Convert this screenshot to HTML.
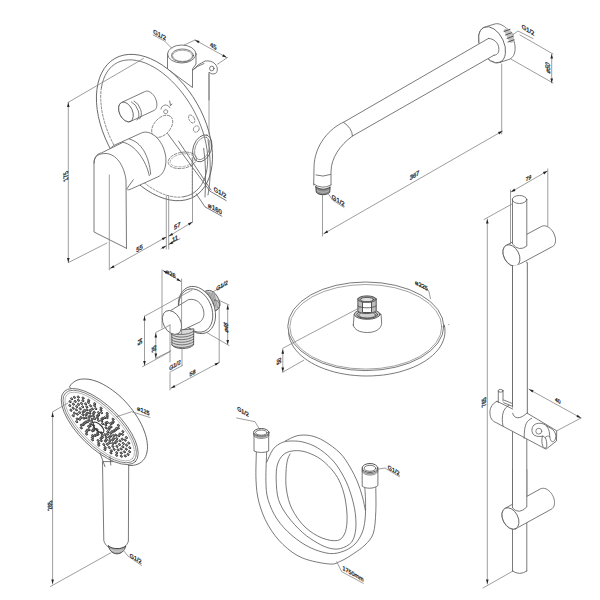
<!DOCTYPE html>
<html><head><meta charset="utf-8"><style>
html,body{margin:0;padding:0;background:#fff;width:600px;height:600px;overflow:hidden}
svg{display:block}
text{font-family:"Liberation Sans",sans-serif;fill:#2a2a2a;stroke:#2a2a2a;stroke-width:0.3px}
</style></head><body>
<svg width="600" height="600" viewBox="0 0 600 600">
<rect width="600" height="600" fill="#fff"/>
<g fill="none" stroke="#585858" stroke-width="0.8" stroke-linecap="round" stroke-linejoin="round">
<path d="M512.5 262 L512.5 571"/>
<path d="M526.8 262 L526.8 571"/>
<path d="M512.5 571 Q 519.6 576 526.8 571"/>
<path d="M541.6 226.4 L542.3 226.1 L543 225.9 L543.7 225.8 L544.5 225.8 L545.3 225.9 L546.2 226.1 L547 226.4 L547.8 226.8 L548.7 227.3 L549.5 227.9 L550.3 228.6 L551 229.3 L551.8 230.2 L552.4 231 L553.1 232 L553.6 233 L554.1 234 L554.5 235 L554.9 236.1 L555.2 237.1 L555.4 238.2 L555.5 239.2 L555.5 240.2 L555.5 241.2 L555.4 242.1 L555.2 243 L554.9 243.8 L554.5 244.5 L554.1 245.2 L553.6 245.8 L553 246.3 L552.4 246.6 L516.9 265.6 L516.2 265.9 L515.5 266.1 L514.8 266.2 L514 266.2 L513.2 266.1 L512.3 265.9 L511.5 265.6 L510.7 265.2 L509.8 264.7 L509 264.1 L508.2 263.4 L507.5 262.7 L506.7 261.8 L506.1 261 L505.4 260 L504.9 259 L504.4 258 L504 257 L503.6 255.9 L503.3 254.9 L503.1 253.8 L503 252.8 L503 251.8 L503 250.8 L503.1 249.9 L503.3 249 L503.6 248.2 L504 247.5 L504.4 246.8 L504.9 246.2 L505.5 245.7 L506.1 245.4 Z" fill="#fff"/>
<ellipse cx="511.5" cy="255.5" rx="11.5" ry="7.5" transform="rotate(62 511.5 255.5)" fill="#fff"/>
<path d="M540.5 488.9 L541.2 488.6 L541.9 488.4 L542.7 488.3 L543.5 488.3 L544.3 488.4 L545.1 488.6 L546 488.9 L546.8 489.3 L547.6 489.8 L548.4 490.4 L549.2 491 L550 491.8 L550.7 492.6 L551.4 493.5 L552 494.4 L552.6 495.4 L553.1 496.4 L553.5 497.4 L553.9 498.5 L554.2 499.5 L554.4 500.6 L554.5 501.6 L554.5 502.6 L554.5 503.6 L554.4 504.5 L554.2 505.4 L553.9 506.2 L553.6 507 L553.1 507.6 L552.6 508.2 L552.1 508.7 L551.5 509.1 L516 528.6 L515.3 528.9 L514.6 529.1 L513.8 529.2 L513 529.2 L512.2 529.1 L511.4 528.9 L510.5 528.6 L509.7 528.2 L508.9 527.7 L508.1 527.1 L507.3 526.5 L506.5 525.7 L505.8 524.9 L505.1 524 L504.5 523.1 L503.9 522.1 L503.4 521.1 L503 520.1 L502.6 519 L502.3 518 L502.1 516.9 L502 515.9 L502 514.9 L502 513.9 L502.1 513 L502.3 512.1 L502.6 511.3 L502.9 510.5 L503.4 509.9 L503.9 509.3 L504.4 508.8 L505 508.4 Z" fill="#fff"/>
<ellipse cx="510.5" cy="518.5" rx="11.5" ry="7.5" transform="rotate(62 510.5 518.5)" fill="#fff"/>
<path d="M512.5 199.5 L512.5 244 Q 519 252 526.8 246 L526.8 199.5 Z" stroke="none" fill="#fff"/>
<path d="M512.5 199.5 L512.5 244 Q 519 252 526.8 246 L526.8 199.5"/>
<ellipse cx="519.5" cy="199.5" rx="7.2" ry="4" transform="rotate(0 519.5 199.5)"/>
<path d="M512.5 266 L512.5 413 Q 519 421 527.3 413 L527.3 263" fill="#fff"/>
<path d="M512.5 470 L512.5 508 Q 519 515 526.8 507 L526.8 470 Z" stroke="none" fill="#fff"/>
<path d="M512.5 470 L512.5 508 Q 519 515 526.8 507 L526.8 470"/>
<path d="M497 401.3 C 491 404 489.5 410 490 413 C 490 418 492 421 496.3 422.7 L546 449.2 L556.5 441 L556.7 430.8 L527.4 413.3" fill="#fff"/>
<path d="M497 401.3 L512.7 409"/>
<path d="M509 405.3 C 503 408 501 416 503 426"/>
<path d="M531.7 418.3 C 527 420.5 524 424 524.2 438.3"/>
<path d="M546.5 425.8 C 543 422.5 537 422.5 534 425 C 531 428 531.5 433 534 435 C 537 437 540.5 436.5 542.5 436.2" fill="#fff"/>
<ellipse cx="538.8" cy="431.2" rx="3" ry="2.9" transform="rotate(0 538.8 431.2)" stroke-width="0.7"/>
<path d="M546.5 425.8 L550.8 428.3 C 553 429.5 555.5 432 555.8 435.5 C 556 439 554.5 441.7 552.5 441.7 C 550.5 441.7 549.8 438 549.5 434 C 549.3 431 548.5 428 546.5 425.8" fill="#fff"/>
<path d="M542.5 436.2 C 541.5 439 541.5 443 543 446.5 C 544 448.5 546 448.8 546.7 447 C 547 443 546.5 439 545 437.5 C 544.3 436.5 543.3 436.2 542.5 436.2" fill="#fff"/>
<path d="M545 437.5 C 546.5 436 548.5 435.5 549.8 436.5" stroke-width="0.7"/>
<path d="M512.7 413.3 C 514 419 520 420 527.4 412.7" fill="#fff"/>
<path d="M498.3 391 L498.3 402.5"/>
<path d="M503 391 L503 401"/>
<ellipse cx="500.6" cy="390.8" rx="2.4" ry="1.4" transform="rotate(0 500.6 390.8)"/>
<path d="M503.7 400 L511.7 403.3"/>
<path d="M503.7 402.7 L511.7 406"/>
<g stroke="#7d7d7d" stroke-width="0.75">
<path d="M510.5 190 L510.5 244"/>
<path d="M547.8 169 L547.8 226"/>
<path d="M511 192 L547.4 171"/>
<path d="M511 192 L514.2 188.6 L515.5 190.9 Z" fill="#222" stroke="none"/>
<path d="M547.4 171 L544.2 174.4 L542.9 172.1 Z" fill="#222" stroke="none"/>
<text x="0" y="0" font-size="5.5" text-anchor="middle" dominant-baseline="central" transform="translate(528.5 178) skewY(-30) scale(0.9 1)">79</text>
<path d="M484 219.5 L512 204"/>
<path d="M483 588 L513 571"/>
<path d="M487.3 219 L487.3 584"/>
<path d="M487.3 219 L488.6 223.5 L486 223.5 Z" fill="#222" stroke="none"/>
<path d="M487.3 584 L486 579.5 L488.6 579.5 Z" fill="#222" stroke="none"/>
<text x="0" y="0" font-size="6" text-anchor="middle" dominant-baseline="central" transform="translate(483.7 402.7) skewY(-30) rotate(-90) scale(0.9 1)">765</text>
<path d="M529 389.3 L581 418"/>
<path d="M529 389.3 L533.6 390.3 L532.3 392.6 Z" fill="#222" stroke="none"/>
<path d="M581 418 L576.4 417 L577.7 414.7 Z" fill="#222" stroke="none"/>
<path d="M557 430.7 L581 418"/>
<text x="0" y="0" font-size="5.5" text-anchor="middle" dominant-baseline="central" transform="translate(557.8 400.5) skewY(30) scale(0.9 1)">40</text>
</g>
<path d="M494.4 24.1 L495.5 23.8 L496.7 23.7 L498 23.8 L499.3 24 L500.6 24.5 L501.9 25 L503.2 25.8 L504.6 26.7 L505.8 27.8 L507.1 28.9 L508.3 30.3 L509.4 31.7 L510.4 33.2 L511.4 34.8 L512.2 36.5 L513 38.2 L513.7 40 L514.2 41.7 L514.6 43.5 L514.9 45.3 L515.1 47 L515.1 48.7 L515 50.3 L514.8 51.8 L514.4 53.2 L514 54.6 L513.4 55.7 L512.6 56.8 L511.8 57.7 L510.9 58.5 L509.9 59.1 L508.8 59.5 L499.3 62.5 L498.2 62.8 L497 62.9 L495.7 62.8 L494.4 62.6 L493.1 62.1 L491.8 61.6 L490.5 60.8 L489.1 59.9 L487.9 58.8 L486.6 57.7 L485.4 56.3 L484.3 54.9 L483.3 53.4 L482.3 51.8 L481.5 50.1 L480.7 48.4 L480 46.6 L479.5 44.9 L479.1 43.1 L478.8 41.3 L478.6 39.6 L478.6 37.9 L478.7 36.3 L478.9 34.8 L479.3 33.4 L479.7 32 L480.3 30.9 L481.1 29.8 L481.9 28.9 L482.8 28.1 L483.8 27.5 L484.9 27.1 Z" fill="#fff"/>
<ellipse cx="492.1" cy="44.8" rx="19.2" ry="11.9" transform="rotate(64.9 492.1 44.8)" fill="#fff"/>
<path d="M440 63.7 L488.5 38.4 C 496 39 500 45 498.6 51.7 C 498 54 496 55.4 494 55.2 L440 86.8 Z" stroke="none" fill="#fff"/>
<path d="M313.7 185 L314 168 C 314 145 330 128 344 122 L488.5 38.4"/>
<path d="M331 185 L331 172 C 331 158 340 145 352.5 136 L494 55.2"/>
<path d="M488.5 38.4 C 496 39 500 45 498.6 51.7 C 498 54 496 55.4 494 55.2"/>
<path d="M343.75 122.5 Q 352 128 352.5 136"/>
<path d="M313.7 184 Q 322 190 331 185"/>
<path d="M316 175 Q 323 177.5 330.5 174.5"/>
<path d="M315.8 186.8 L316.3 192.3 C 318.5 195.5 327.5 195.5 329.7 192.3 L330.2 186.8 C 326 190 320 190 315.8 186.8 Z" stroke-width="0.9" stroke="#3a3a3a" fill="#8c8c8c"/>
<path d="M317 190.6 C 320 192.8 326 192.8 329 190.6" stroke-width="0.6" stroke="#d8d8d8"/>
<path d="M503.5 30 L507 27.5 L513.5 33.5 L514.5 42 L510 43 Z" stroke="none" fill="#c4c4c4"/>
<path d="M504 31.5 L510 29.3" stroke-width="0.9" stroke="#444"/>
<path d="M505.5 35 L511.5 32.8" stroke-width="0.9" stroke="#444"/>
<path d="M507 38.5 L513 36.3" stroke-width="0.9" stroke="#444"/>
<path d="M508 42 L514 39.8" stroke-width="0.9" stroke="#444"/>
<g stroke="#7d7d7d" stroke-width="0.75">
<path d="M501.7 64 L501.7 134"/>
<path d="M322.5 195 L322.5 236"/>
<path d="M323.7 233.7 L502.5 131"/>
<path d="M323.7 233.7 L327 230.3 L328.2 232.6 Z" fill="#222" stroke="none"/>
<path d="M502.5 131 L499.2 134.4 L498 132.1 Z" fill="#222" stroke="none"/>
<text x="0" y="0" font-size="6.5" text-anchor="middle" dominant-baseline="central" transform="translate(414.5 175) skewY(-30) scale(0.9 1)">367</text>
<path d="M520 35 L553 54"/>
<path d="M510.8 59 L553 83"/>
<path d="M551.7 54 L551.7 83"/>
<path d="M551.7 54 L553 58.5 L550.4 58.5 Z" fill="#222" stroke="none"/>
<path d="M551.7 83 L550.4 78.5 L553 78.5 Z" fill="#222" stroke="none"/>
<text x="0" y="0" font-size="6.5" text-anchor="middle" dominant-baseline="central" transform="translate(547.3 67.5) skewY(30) rotate(-90) scale(0.9 1)">⌀50</text>
<path d="M512.5 35 L518 31 L533 38.5"/>
<text x="0" y="0" font-size="6.5" text-anchor="middle" dominant-baseline="central" transform="translate(528 29.8) skewY(30) scale(0.9 1)">G1/2</text>
<path d="M327.5 192.5 L332.5 200 L344 207.5"/>
<text x="0" y="0" font-size="6.5" text-anchor="middle" dominant-baseline="central" transform="translate(338.2 200.3) skewY(32) scale(0.9 1)">G1/2</text>
</g>
<path d="M167.5 54 L167.5 69 L192.5 87.5 L192.5 69 L196 64 L196 54 Z" fill="#fff"/>
<path d="M194 69 L198 65 L205 61 C 209 60.5 212 61.5 214 63 C 217.5 65.5 218 70 216.5 72.5 C 215 74.5 211 74.5 209 72 L209 100" fill="#fff"/>
<path d="M193 70 L197.5 66.5 L204 63.5"/>
<ellipse cx="211.8" cy="68.5" rx="2.2" ry="2.4" transform="rotate(0 211.8 68.5)"/>
<ellipse cx="181.8" cy="54" rx="14.2" ry="9" transform="rotate(0 181.8 54)" fill="#fff"/>
<ellipse cx="182.5" cy="55.5" rx="11" ry="6.5" transform="rotate(0 182.5 55.5)"/>
<ellipse cx="182.5" cy="55.8" rx="10" ry="5.6" transform="rotate(0 182.5 55.8)" stroke-width="0.5"/>
<ellipse cx="154.5" cy="127.6" rx="79.7" ry="48.9" transform="rotate(60.1 154.5 127.6)" fill="#fff"/>
<path d="M101.4 87.8 L102.3 83.4 L103.5 79.3 L105.1 75.5 L107 72.1 L109.3 69 L111.8 66.4 L114.7 64.2 L117.8 62.4 L121.1 61.1 L124.7 60.3 L128.5 59.9 L132.4 59.9 L136.5 60.5 L140.8 61.5 L145.1 62.9 L149.4 64.8 L153.9 67.2 L158.3 69.9 L162.6 73.1 L167 76.6 L171.2 80.5 L175.3 84.7 L179.3 89.2 L183.1 94 L186.7 99 L190.1 104.2 L193.3 109.6 L196.1 115.1 L198.7 120.7 L201 126.4 L203 132 L204.6 137.7 L205.9 143.2 L206.9 148.7 L207.5 154.1 L207.7 159.2 L207.5 164.2 L207 168.9 L206.2 173.3 L204.9 177.5 L203.4 181.3 L201.5 184.7 L199.3 187.8 L196.7 190.4 L193.9 192.7 L190.8 194.5 L187.5 195.8 L183.9 196.7"/>
<path d="M183.9 196.7 L183.1 196.8 L182.3 196.9 L181.5 197 L180.6 197.1 L179.8 197.1 L178.9 197.2 L178 197.2 L177.2 197.1 L176.3 197.1 L175.4 197 L174.5 196.9 L173.6 196.8 L172.7 196.7 L171.8 196.5 L170.9 196.3 L169.9 196.1 L169 195.9 L168.1 195.6 L167.1 195.4 L166.2 195.1 L165.2 194.8 L164.3 194.4 L163.3 194.1 L162.4 193.7 L161.4 193.3 L160.4 192.9 L159.5 192.4 L158.5 191.9 L157.5 191.4 L156.5 190.9 L155.6 190.4 L154.6 189.9 L153.6 189.3 L152.7 188.7 L151.7 188.1 L150.7 187.5 L149.7 186.8 L148.8 186.1 L147.8 185.5 L146.8 184.7 L145.9 184 L144.9 183.3 L144 182.5 L143 181.7 L142.1 180.9 L141.1 180.1 L140.2 179.3 L139.2 178.4" stroke-width="0.7" stroke-dasharray="2.2 1.6"/>
<path d="M113.7 144.7 L113.1 143.5 L112.5 142.3 L111.9 141.1 L111.3 139.8 L110.7 138.6 L110.1 137.4 L109.6 136.1 L109.1 134.9 L108.5 133.6 L108 132.4 L107.6 131.1 L107.1 129.9 L106.6 128.6 L106.2 127.4 L105.8 126.2 L105.4 124.9 L105 123.7 L104.6 122.4 L104.3 121.2 L103.9 119.9 L103.6 118.7 L103.3 117.5 L103 116.2 L102.7 115 L102.5 113.8 L102.2 112.6 L102 111.4 L101.8 110.1 L101.6 108.9 L101.5 107.8 L101.3 106.6 L101.2 105.4 L101.1 104.2 L101 103.1 L100.9 101.9 L100.8 100.8 L100.8 99.6 L100.7 98.5 L100.7 97.4 L100.7 96.3 L100.7 95.2 L100.8 94.1 L100.9 93 L100.9 91.9 L101 90.9 L101.1 89.9 L101.3 88.8 L101.4 87.8" stroke-width="0.7" stroke-dasharray="2.2 1.6"/>
<ellipse cx="162.2" cy="126.3" rx="12.9" ry="8.2" transform="rotate(-48.4 162.2 126.3)" stroke-width="0.75" stroke="#6a6a6a" stroke-dasharray="2.6 1.6"/>
<ellipse cx="165.7" cy="111.7" rx="2" ry="2" transform="rotate(0 165.7 111.7)" stroke-dasharray="1.5 1"/>
<path d="M161 109 A4.7 4.7 0 0 1 170 108" stroke-dasharray="1.5 1"/>
<path d="M169.7 101 L170.5 105.7 L172 104"/>
<ellipse cx="182.3" cy="160.3" rx="14.3" ry="8" transform="rotate(-10 182.3 160.3)" stroke-width="0.75" stroke="#6a6a6a" stroke-dasharray="2.6 1.6"/>
<ellipse cx="182.3" cy="160.3" rx="12.3" ry="6.3" transform="rotate(-10 182.3 160.3)" stroke-width="0.6" stroke="#888" stroke-dasharray="2.6 1.6"/>
<ellipse cx="191.7" cy="119" rx="2.6" ry="4.5" transform="rotate(-30 191.7 119)" stroke-width="0.7" stroke="#6a6a6a" stroke-dasharray="2 1.4"/>
<ellipse cx="196.3" cy="129" rx="2.8" ry="3.3" transform="rotate(30 196.3 129)" stroke-width="0.7" stroke="#6a6a6a" stroke-dasharray="2 1.2"/>
<ellipse cx="202.3" cy="148.3" rx="14" ry="9" transform="rotate(-70 202.3 148.3)" stroke="#555"/>
<ellipse cx="202.3" cy="148.3" rx="11.8" ry="7" transform="rotate(-70 202.3 148.3)" stroke-width="0.7" stroke="#777"/>
<path d="M203.7 148.3 C 206 165 206 180 205 197"/>
<path d="M208 140 C 211 160 211 178 208 195"/>
<path d="M192.3 157.7 L192.3 197" stroke-dasharray="2 1.3"/>
<path d="M167.7 133.7 L210 191.2 L226.2 200.6"/>
<path d="M178.5 141 L211 190"/>
<path d="M196.2 193.8 L205 206.9 L221.9 216.2"/>
<path d="M145.1 91.5 L145.7 91.3 L146.3 91.1 L147 91.1 L147.6 91.2 L148.4 91.3 L149.1 91.6 L149.8 91.9 L150.5 92.3 L151.2 92.8 L151.9 93.4 L152.6 94.1 L153.2 94.8 L153.8 95.6 L154.4 96.4 L154.9 97.3 L155.4 98.2 L155.8 99.2 L156.1 100.2 L156.4 101.1 L156.6 102.1 L156.8 103.1 L156.9 104 L156.9 104.9 L156.8 105.8 L156.7 106.6 L156.5 107.4 L156.2 108.1 L155.9 108.7 L155.5 109.3 L155 109.8 L154.5 110.2 L153.9 110.5 L130.4 121.5 L129.8 121.7 L129.2 121.9 L128.5 121.9 L127.9 121.8 L127.1 121.7 L126.4 121.4 L125.7 121.1 L125 120.7 L124.3 120.2 L123.6 119.6 L122.9 118.9 L122.3 118.2 L121.7 117.4 L121.1 116.6 L120.6 115.7 L120.1 114.8 L119.7 113.8 L119.4 112.8 L119.1 111.9 L118.9 110.9 L118.7 109.9 L118.6 109 L118.6 108.1 L118.7 107.2 L118.8 106.4 L119 105.6 L119.3 104.9 L119.6 104.3 L120 103.7 L120.5 103.2 L121 102.8 L121.6 102.5 Z" fill="#fff"/>
<ellipse cx="126" cy="112" rx="10.5" ry="6.5" transform="rotate(65 126 112)" fill="#fff"/>
<path d="M131.5 102 A10.5 6.5 65 0 1 137 120"/>
<path d="M134 101 A10.5 6.5 65 0 1 139.5 119"/>
<path d="M141.2 133.1 L142.6 132.5 L144.1 132.2 L145.6 132.1 L147.2 132.3 L148.8 132.6 L150.5 133.2 L152.1 134 L153.6 135 L155.2 136.1 L156.7 137.5 L158.1 139 L159.4 140.7 L160.6 142.5 L161.8 144.4 L162.8 146.5 L163.7 148.6 L164.4 150.8 L165 153 L165.5 155.2 L165.8 157.5 L165.9 159.7 L165.9 161.9 L165.7 164 L165.4 166 L164.9 167.9 L164.3 169.7 L163.5 171.3 L162.6 172.8 L161.6 174.1 L160.4 175.3 L159.2 176.2 L157.8 176.9 L131.3 188.9 L129.9 189.5 L128.4 189.8 L126.9 189.9 L125.3 189.7 L123.7 189.4 L122 188.8 L120.4 188 L118.9 187 L117.3 185.9 L115.8 184.5 L114.4 183 L113.1 181.3 L111.9 179.5 L110.7 177.6 L109.7 175.5 L108.8 173.4 L108.1 171.2 L107.5 169 L107 166.8 L106.7 164.5 L106.6 162.3 L106.6 160.1 L106.8 158 L107.1 156 L107.6 154.1 L108.2 152.3 L109 150.7 L109.9 149.2 L110.9 147.9 L112.1 146.7 L113.3 145.8 L114.7 145.1 Z" fill="#fff"/>
<path d="M123.3 142.3 C 135 145 146 160 149.3 175.7"/>
<path d="M129.3 139 C 141 142 149 155 150.7 174.3"/>
<path d="M94 232 L94 163 C 94 156 99 153 101.3 153 L123 142.3 C 126 150 127.5 160 127.5 178 L126.5 248.3 Z" stroke="none" fill="#fff"/>
<path d="M126.5 248.3 L94 232 L94 163 C 94 156 99 153 101.3 153 L123 142.3"/>
<path d="M94 163 C 94 155 100 153.5 106 153.5 C 116 154 124 165 126 180 L126.5 248.3"/>
<path d="M126.7 189 L133.3 179.7"/>
<g stroke="#7d7d7d" stroke-width="0.75">
<path d="M109.3 175 L109.3 270"/>
<path d="M166.3 196 L166.3 249"/>
<path d="M168.7 196 L168.7 249"/>
<path d="M192.5 160 L192.5 197" stroke-dasharray="2.2 1.6"/>
<path d="M192.5 197 L192.5 222"/>
<path d="M68 102.5 L143.5 58.5"/>
<path d="M68.5 262.5 L107 243"/>
<path d="M68.3 102.5 L68.3 262.5"/>
<path d="M68.3 102.5 L69.6 107 L67 107 Z" fill="#222" stroke="none"/>
<path d="M68.3 262.5 L67 258 L69.6 258 Z" fill="#222" stroke="none"/>
<text x="0" y="0" font-size="6.5" text-anchor="middle" dominant-baseline="central" transform="translate(65.8 176.5) skewY(-30) rotate(-90) scale(0.9 1)">175</text>
<path d="M110 268.5 L166.3 237"/>
<path d="M110 268.5 L113.3 265.2 L114.6 267.4 Z" fill="#222" stroke="none"/>
<path d="M166.3 237 L163 240.3 L161.7 238.1 Z" fill="#222" stroke="none"/>
<text x="0" y="0" font-size="6.5" text-anchor="middle" dominant-baseline="central" transform="translate(139.4 248.1) skewY(-30) scale(0.9 1)">55</text>
<path d="M168.7 236.3 L192.5 222"/>
<path d="M168.7 236.3 L171.9 232.9 L173.2 235.1 Z" fill="#222" stroke="none"/>
<path d="M192.5 222 L189.3 225.4 L188 223.2 Z" fill="#222" stroke="none"/>
<text x="0" y="0" font-size="6.5" text-anchor="middle" dominant-baseline="central" transform="translate(177.2 225.6) skewY(-30) scale(0.9 1)">57</text>
<path d="M161 248.8 L166.3 245.8"/>
<path d="M166.3 245.8 L163 249.1 L161.7 246.9 Z" fill="#222" stroke="none"/>
<path d="M168.7 244.5 L180 238.7"/>
<path d="M168.7 244.5 L172.1 241.3 L173.3 243.6 Z" fill="#222" stroke="none"/>
<text x="0" y="0" font-size="6.5" text-anchor="middle" dominant-baseline="central" transform="translate(175 238.4) skewY(-30) scale(0.9 1)">11</text>
<text x="0" y="0" font-size="6.5" text-anchor="middle" dominant-baseline="central" transform="translate(220 192.2) skewY(30) scale(0.9 1)">G1/2</text>
<text x="0" y="0" font-size="6.5" text-anchor="middle" dominant-baseline="central" transform="translate(215 208.4) skewY(30) scale(0.9 1)">⌀160</text>
<path d="M184.2 45 L195 40"/>
<path d="M217.5 64.2 L227.5 57.5"/>
<path d="M209 74 L209 134"/>
<path d="M195 40 L226.7 57.5"/>
<path d="M195 40 L199.6 41 L198.3 43.3 Z" fill="#222" stroke="none"/>
<path d="M226.7 57.5 L222.1 56.5 L223.4 54.2 Z" fill="#222" stroke="none"/>
<text x="0" y="0" font-size="6.5" text-anchor="middle" dominant-baseline="central" transform="translate(213.2 45.9) skewY(30) scale(0.9 1)">45</text>
<path d="M172 48.5 L164.5 41 L153.2 35"/>
<text x="0" y="0" font-size="6.5" text-anchor="middle" dominant-baseline="central" transform="translate(159.6 34.6) skewY(30) scale(0.9 1)">G1/2</text>
</g>
<path d="M205 291.3 C 211 288 217 293 219.7 302 C 221 306 218 310 215 310.7 L214.3 310 C 213 303 211 297 207 293.3 Z" stroke-width="0.9" fill="#d2d2d2"/>
<path d="M206.5 292 L210 306" stroke-width="0.55" stroke="#666"/>
<path d="M208 292.3 L211.5 306.3" stroke-width="0.55" stroke="#666"/>
<path d="M209.5 292.6 L213 306.6" stroke-width="0.55" stroke="#666"/>
<path d="M211 292.9 L214.5 306.9" stroke-width="0.55" stroke="#666"/>
<path d="M212.5 293.2 L216 307.2" stroke-width="0.55" stroke="#666"/>
<path d="M214 293.5 L217.5 307.5" stroke-width="0.55" stroke="#666"/>
<path d="M214.3 300 C 218 300.5 220 303 219.7 306 C 219 309 217 310.5 215 310.7" stroke-width="0.9"/>
<ellipse cx="197" cy="310" rx="17.5" ry="24.5" transform="rotate(-22 197 310)" fill="#fff"/>
<ellipse cx="195.8" cy="310.5" rx="16" ry="22.5" transform="rotate(-22 195.8 310.5)"/>
<path d="M165 314 L188.3 299.7 C 196 298 202 303 203.7 311 C 205 318 201 322 197.7 323 L172.5 335 Z" fill="#fff"/>
<path d="M171.7 331 L171.9 345 C 175 349.5 189 350 193.6 345 L193.8 329.2 Z" stroke-width="0.9" fill="#d9d9d9"/>
<path d="M171.8 332.0 C 176 335.5 188 335.5 193.7 331.2" stroke-width="0.7" stroke="#444"/>
<path d="M171.8 334.6 C 176 338.1 188 338.1 193.7 333.8" stroke-width="0.7" stroke="#444"/>
<path d="M171.8 337.2 C 176 340.7 188 340.7 193.7 336.4" stroke-width="0.7" stroke="#444"/>
<path d="M171.8 339.8 C 176 343.3 188 343.3 193.7 339.0" stroke-width="0.7" stroke="#444"/>
<path d="M171.8 342.4 C 176 345.9 188 345.9 193.7 341.6" stroke-width="0.7" stroke="#444"/>
<path d="M171.8 345.0 C 176 348.5 188 348.5 193.7 344.2" stroke-width="0.7" stroke="#444"/>
<ellipse cx="172" cy="322.5" rx="12.8" ry="8.6" transform="rotate(62 172 322.5)" fill="#fff"/>
<g stroke="#7d7d7d" stroke-width="0.75">
<path d="M162 270 L162 328"/>
<path d="M181.6 279 L181.6 334"/>
<path d="M163 270.5 L181 281.5"/>
<path d="M163 270.5 L167.5 271.7 L166.2 274 Z" fill="#222" stroke="none"/>
<path d="M181 281.5 L176.5 280.3 L177.8 278 Z" fill="#222" stroke="none"/>
<text x="0" y="0" font-size="6" text-anchor="middle" dominant-baseline="central" transform="translate(170.8 273.2) skewY(30) scale(0.9 1)">⌀26</text>
<path d="M145 316 L192 290"/>
<path d="M142.5 366.7 L170 351.7"/>
<path d="M144.5 316 L144.5 365.5"/>
<path d="M144.5 316 L145.8 320.5 L143.2 320.5 Z" fill="#222" stroke="none"/>
<path d="M144.5 365.5 L143.2 361 L145.8 361 Z" fill="#222" stroke="none"/>
<text x="0" y="0" font-size="6" text-anchor="middle" dominant-baseline="central" transform="translate(140 342) skewY(-30) rotate(-90) scale(0.9 1)">54</text>
<path d="M155.8 332.5 L170 325"/>
<path d="M155.8 358.3 L170.8 350.8"/>
<path d="M155.8 333 L155.8 358"/>
<path d="M155.8 333 L157.1 337.5 L154.5 337.5 Z" fill="#222" stroke="none"/>
<path d="M155.8 358 L154.5 353.5 L157.1 353.5 Z" fill="#222" stroke="none"/>
<text x="0" y="0" font-size="6" text-anchor="middle" dominant-baseline="central" transform="translate(153.3 349.2) skewY(-30) rotate(-90) scale(0.9 1)">35</text>
<path d="M170 325 L170 362"/>
<path d="M170 373 L170 390"/>
<path d="M182 349.2 L182 365.5"/>
<path d="M170 372 L182.5 365.5"/>
<text x="0" y="0" font-size="6" text-anchor="middle" dominant-baseline="central" transform="translate(175 364.6) skewY(-30) scale(0.9 1)">G1/2</text>
<path d="M219.2 300 L219.2 362.5"/>
<path d="M170.8 388.3 L219.2 362.5"/>
<path d="M170.8 388.3 L174.2 385 L175.4 387.3 Z" fill="#222" stroke="none"/>
<path d="M219.2 362.5 L215.8 365.8 L214.6 363.5 Z" fill="#222" stroke="none"/>
<text x="0" y="0" font-size="6" text-anchor="middle" dominant-baseline="central" transform="translate(192.5 372.5) skewY(-30) scale(0.9 1)">58</text>
<path d="M219 300.3 L229 305"/>
<path d="M206.3 332.3 L229 345.5"/>
<path d="M227.7 305 L227.7 344.5"/>
<path d="M227.7 305 L229 309.5 L226.4 309.5 Z" fill="#222" stroke="none"/>
<path d="M227.7 344.5 L226.4 340 L229 340 Z" fill="#222" stroke="none"/>
<text x="0" y="0" font-size="6" text-anchor="middle" dominant-baseline="central" transform="translate(225.5 327) skewY(30) rotate(-90) scale(0.9 1)">⌀46</text>
<path d="M212.3 292.3 L227 283.5"/>
<text x="0" y="0" font-size="6" text-anchor="middle" dominant-baseline="central" transform="translate(222 285.2) skewY(-30) scale(0.9 1)">G1/2</text>
</g>
<path d="M444.2 325 L444.8 328.1 L445 331.3 L444.8 334.5 L444.2 337.7 L443.2 340.8 L441.8 343.9 L440 347 L437.9 349.9 L435.4 352.7 L432.5 355.5 L429.3 358.1 L425.8 360.6 L422 362.9 L417.9 365.1 L413.6 367.1 L409 368.9 L404.2 370.5 L399.2 372 L394.1 373.2 L388.8 374.2 L383.4 375 L377.9 375.5 L372.4 375.9 L366.8 376 L361.2 375.9 L355.7 375.5 L350.2 375 L344.8 374.2 L339.5 373.2 L334.4 372 L329.4 370.5 L324.6 368.9 L320 367.1 L315.7 365.1 L311.6 362.9 L307.8 360.6 L304.3 358.1 L301.1 355.5 L298.2 352.7 L295.7 349.9 L293.6 347 L291.8 343.9 L290.4 340.8 L289.4 337.7 L288.8 334.5 L288.6 331.3 L288.8 328.1 L289.4 325" fill="#fff"/>
<ellipse cx="365.8" cy="326.3" rx="78" ry="44.3" transform="rotate(0 365.8 326.3)" fill="#fff"/>
<ellipse cx="365.8" cy="326.8" rx="76" ry="42.3" transform="rotate(0 365.8 326.8)" stroke-width="0.6" stroke="#666"/>
<ellipse cx="448.8" cy="324.5" rx="0.5" ry="0.5" transform="rotate(0 448.8 324.5)" stroke="none" fill="#777"/>
<path d="M353.3 325 L354.2 314 L381 314 L381.7 323.3 C 381 330 374 332.5 367.5 332.5 C 360 332.5 354 330 353.3 325 Z" fill="#fff"/>
<ellipse cx="367.2" cy="314.3" rx="12.9" ry="5" transform="rotate(0 367.2 314.3)" stroke-width="1" fill="#d0d0d0"/>
<ellipse cx="367.2" cy="314.6" rx="10.5" ry="3.8" transform="rotate(0 367.2 314.6)" stroke-width="0.9" stroke="#444"/>
<ellipse cx="367.2" cy="315" rx="8.5" ry="3" transform="rotate(0 367.2 315)" stroke-width="0.8" stroke="#555"/>
<path d="M357.9 299 L357.9 310.8 C 360 314.5 372 314.5 376.2 310.8 L376.2 299 Z" stroke-width="1" fill="#bdbdbd"/>
<ellipse cx="367" cy="299.2" rx="9.2" ry="3.3" transform="rotate(0 367 299.2)" stroke-width="1" fill="#9a9a9a"/>
<ellipse cx="367" cy="299.6" rx="6.5" ry="2.2" transform="rotate(0 367 299.6)" stroke-width="0.8" stroke="#444" fill="#e0e0e0"/>
<path d="M362.5 302.5 L362.5 312.5 L371.5 312.5 L371.5 302.5 Z" stroke-width="0.9" stroke="#444" fill="#fff"/>
<path d="M358 306 C 362 308.5 372 308.5 376 306" stroke-width="0.8" stroke="#444"/>
<g stroke="#7d7d7d" stroke-width="0.75">
<path d="M282.8 348.3 L360.7 307.1"/>
<path d="M282.8 372.2 L303.8 360.2"/>
<path d="M282.8 349.3 L282.8 372"/>
<path d="M282.8 349.3 L284.1 353.8 L281.4 353.8 Z" fill="#222" stroke="none"/>
<path d="M282.8 372 L281.4 367.5 L284.1 367.5 Z" fill="#222" stroke="none"/>
<text x="0" y="0" font-size="6" text-anchor="middle" dominant-baseline="central" transform="translate(279 361.5) skewY(-30) rotate(-90) scale(0.9 1)">50</text>
<path d="M430.5 298.8 L428.7 290.6 L416.8 284.5"/>
<text x="0" y="0" font-size="6" text-anchor="middle" dominant-baseline="central" transform="translate(421.5 285) skewY(30) scale(0.9 1)">⌀225</text>
</g>
<path d="M102.5 462 L103.8 540.5 C 105 546 110 549 116.7 549.2 C 123 549 127 546 128.4 541 L128.7 462 Z" fill="#fff"/>
<path d="M108.5 546 C 109.5 551 113 553.8 117 553.8 C 121 553.8 124.5 551 125.8 546 C 122 549.5 112 549.5 108.5 546 Z" stroke-width="0.9" stroke="#3a3a3a" fill="#b0b0b0"/>
<path d="M110.5 549.5 C 113 552 121 552 124 549.5" stroke-width="0.7" stroke="#ddd"/>
<path d="M69.7 386.5 L70.9 384.7 L72.4 383.1 L74.1 381.8 L76 380.7 L78.1 379.8 L80.3 379.3 L82.8 379 L85.4 379 L88.1 379.2 L91 379.7 L93.9 380.5 L97 381.5 L100.1 382.8 L103.2 384.4 L106.4 386.2 L109.6 388.2 L112.7 390.4 L115.9 392.8 L119 395.4 L122 398.2 L124.9 401.1 L127.7 404.2 L130.4 407.4 L132.9 410.6 L135.3 414 L137.5 417.4 L139.5 420.8 L141.3 424.2 L142.9 427.6 L144.2 431 L145.4 434.3 L146.3 437.6 L146.9 440.7 L147.3 443.8 L147.5 446.7 L147.4 449.4 L147 452 L146.4 454.4 L145.6 456.6 L144.5 458.5 L143.2 460.3 L141.6 461.8 L139.9 463.1 L137.9 464.1 L135.7 464.8 L133.4 465.3 L130.9 465.5 L128.2 465.4 L100.4 426.6 Z" stroke-width="0.9" fill="#fff"/>
<ellipse cx="99.8" cy="426.6" rx="50" ry="21" transform="rotate(44.5 99.8 426.6)" fill="#fff"/>
<ellipse cx="99.8" cy="426.6" rx="48" ry="19.2" transform="rotate(44.5 99.8 426.6)" stroke-width="0.7"/>
<ellipse cx="99.8" cy="426.6" rx="45.8" ry="17.3" transform="rotate(44.5 99.8 426.6)" stroke-width="0.5" stroke="#777"/>
<ellipse cx="107.5" cy="434.1" rx="1.2" ry="0.9" transform="rotate(44.5 107.5 434.1)" stroke-width="0.8" stroke="#333" fill="#999"/>
<ellipse cx="105" cy="434.6" rx="1.2" ry="0.9" transform="rotate(44.5 105 434.6)" stroke-width="0.8" stroke="#333" fill="#999"/>
<ellipse cx="101.2" cy="432.8" rx="1.2" ry="0.9" transform="rotate(44.5 101.2 432.8)" stroke-width="0.8" stroke="#333" fill="#999"/>
<ellipse cx="97" cy="429.5" rx="1.2" ry="0.9" transform="rotate(44.5 97 429.5)" stroke-width="0.8" stroke="#333" fill="#999"/>
<ellipse cx="93.5" cy="425.3" rx="1.2" ry="0.9" transform="rotate(44.5 93.5 425.3)" stroke-width="0.8" stroke="#333" fill="#999"/>
<ellipse cx="91.8" cy="421.5" rx="1.2" ry="0.9" transform="rotate(44.5 91.8 421.5)" stroke-width="0.8" stroke="#333" fill="#999"/>
<ellipse cx="92.1" cy="419.1" rx="1.2" ry="0.9" transform="rotate(44.5 92.1 419.1)" stroke-width="0.8" stroke="#333" fill="#999"/>
<ellipse cx="94.6" cy="418.6" rx="1.2" ry="0.9" transform="rotate(44.5 94.6 418.6)" stroke-width="0.8" stroke="#333" fill="#999"/>
<ellipse cx="98.4" cy="420.4" rx="1.2" ry="0.9" transform="rotate(44.5 98.4 420.4)" stroke-width="0.8" stroke="#333" fill="#999"/>
<ellipse cx="102.6" cy="423.7" rx="1.2" ry="0.9" transform="rotate(44.5 102.6 423.7)" stroke-width="0.8" stroke="#333" fill="#999"/>
<ellipse cx="106.1" cy="427.9" rx="1.2" ry="0.9" transform="rotate(44.5 106.1 427.9)" stroke-width="0.8" stroke="#333" fill="#999"/>
<ellipse cx="107.8" cy="431.7" rx="1.2" ry="0.9" transform="rotate(44.5 107.8 431.7)" stroke-width="0.8" stroke="#333" fill="#999"/>
<ellipse cx="109.2" cy="437.4" rx="1.2" ry="0.9" transform="rotate(44.5 109.2 437.4)" stroke-width="0.8" stroke="#333" fill="#999"/>
<ellipse cx="106.2" cy="437.2" rx="1.2" ry="0.9" transform="rotate(44.5 106.2 437.2)" stroke-width="0.8" stroke="#333" fill="#999"/>
<ellipse cx="102.3" cy="435.4" rx="1.2" ry="0.9" transform="rotate(44.5 102.3 435.4)" stroke-width="0.8" stroke="#333" fill="#999"/>
<ellipse cx="97.9" cy="432.3" rx="1.2" ry="0.9" transform="rotate(44.5 97.9 432.3)" stroke-width="0.8" stroke="#333" fill="#999"/>
<ellipse cx="93.9" cy="428.3" rx="1.2" ry="0.9" transform="rotate(44.5 93.9 428.3)" stroke-width="0.8" stroke="#333" fill="#999"/>
<ellipse cx="90.7" cy="424" rx="1.2" ry="0.9" transform="rotate(44.5 90.7 424)" stroke-width="0.8" stroke="#333" fill="#999"/>
<ellipse cx="89" cy="420.1" rx="1.2" ry="0.9" transform="rotate(44.5 89 420.1)" stroke-width="0.8" stroke="#333" fill="#999"/>
<ellipse cx="88.9" cy="417.2" rx="1.2" ry="0.9" transform="rotate(44.5 88.9 417.2)" stroke-width="0.8" stroke="#333" fill="#999"/>
<ellipse cx="90.4" cy="415.8" rx="1.2" ry="0.9" transform="rotate(44.5 90.4 415.8)" stroke-width="0.8" stroke="#333" fill="#999"/>
<ellipse cx="93.4" cy="416" rx="1.2" ry="0.9" transform="rotate(44.5 93.4 416)" stroke-width="0.8" stroke="#333" fill="#999"/>
<ellipse cx="97.3" cy="417.8" rx="1.2" ry="0.9" transform="rotate(44.5 97.3 417.8)" stroke-width="0.8" stroke="#333" fill="#999"/>
<ellipse cx="101.7" cy="420.9" rx="1.2" ry="0.9" transform="rotate(44.5 101.7 420.9)" stroke-width="0.8" stroke="#333" fill="#999"/>
<ellipse cx="105.7" cy="424.9" rx="1.2" ry="0.9" transform="rotate(44.5 105.7 424.9)" stroke-width="0.8" stroke="#333" fill="#999"/>
<ellipse cx="108.9" cy="429.2" rx="1.2" ry="0.9" transform="rotate(44.5 108.9 429.2)" stroke-width="0.8" stroke="#333" fill="#999"/>
<ellipse cx="110.6" cy="433.1" rx="1.2" ry="0.9" transform="rotate(44.5 110.6 433.1)" stroke-width="0.8" stroke="#333" fill="#999"/>
<ellipse cx="110.7" cy="436" rx="1.2" ry="0.9" transform="rotate(44.5 110.7 436)" stroke-width="0.8" stroke="#333" fill="#999"/>
<ellipse cx="109.9" cy="440.4" rx="1.2" ry="0.9" transform="rotate(44.5 109.9 440.4)" stroke-width="0.8" stroke="#333" fill="#999"/>
<ellipse cx="106.4" cy="439.5" rx="1.2" ry="0.9" transform="rotate(44.5 106.4 439.5)" stroke-width="0.8" stroke="#333" fill="#999"/>
<ellipse cx="102.2" cy="437.3" rx="1.2" ry="0.9" transform="rotate(44.5 102.2 437.3)" stroke-width="0.8" stroke="#333" fill="#999"/>
<ellipse cx="97.8" cy="434.1" rx="1.2" ry="0.9" transform="rotate(44.5 97.8 434.1)" stroke-width="0.8" stroke="#333" fill="#999"/>
<ellipse cx="93.6" cy="430.1" rx="1.2" ry="0.9" transform="rotate(44.5 93.6 430.1)" stroke-width="0.8" stroke="#333" fill="#999"/>
<ellipse cx="90" cy="425.8" rx="1.2" ry="0.9" transform="rotate(44.5 90 425.8)" stroke-width="0.8" stroke="#333" fill="#999"/>
<ellipse cx="87.4" cy="421.6" rx="1.2" ry="0.9" transform="rotate(44.5 87.4 421.6)" stroke-width="0.8" stroke="#333" fill="#999"/>
<ellipse cx="86" cy="417.8" rx="1.2" ry="0.9" transform="rotate(44.5 86 417.8)" stroke-width="0.8" stroke="#333" fill="#999"/>
<ellipse cx="85.9" cy="414.9" rx="1.2" ry="0.9" transform="rotate(44.5 85.9 414.9)" stroke-width="0.8" stroke="#333" fill="#999"/>
<ellipse cx="87.2" cy="413.2" rx="1.2" ry="0.9" transform="rotate(44.5 87.2 413.2)" stroke-width="0.8" stroke="#333" fill="#999"/>
<ellipse cx="89.7" cy="412.8" rx="1.2" ry="0.9" transform="rotate(44.5 89.7 412.8)" stroke-width="0.8" stroke="#333" fill="#999"/>
<ellipse cx="93.2" cy="413.7" rx="1.2" ry="0.9" transform="rotate(44.5 93.2 413.7)" stroke-width="0.8" stroke="#333" fill="#999"/>
<ellipse cx="97.4" cy="415.9" rx="1.2" ry="0.9" transform="rotate(44.5 97.4 415.9)" stroke-width="0.8" stroke="#333" fill="#999"/>
<ellipse cx="101.8" cy="419.1" rx="1.2" ry="0.9" transform="rotate(44.5 101.8 419.1)" stroke-width="0.8" stroke="#333" fill="#999"/>
<ellipse cx="106" cy="423.1" rx="1.2" ry="0.9" transform="rotate(44.5 106 423.1)" stroke-width="0.8" stroke="#333" fill="#999"/>
<ellipse cx="109.6" cy="427.4" rx="1.2" ry="0.9" transform="rotate(44.5 109.6 427.4)" stroke-width="0.8" stroke="#333" fill="#999"/>
<ellipse cx="112.2" cy="431.6" rx="1.2" ry="0.9" transform="rotate(44.5 112.2 431.6)" stroke-width="0.8" stroke="#333" fill="#999"/>
<ellipse cx="113.6" cy="435.4" rx="1.2" ry="0.9" transform="rotate(44.5 113.6 435.4)" stroke-width="0.8" stroke="#333" fill="#999"/>
<ellipse cx="113.7" cy="438.3" rx="1.2" ry="0.9" transform="rotate(44.5 113.7 438.3)" stroke-width="0.8" stroke="#333" fill="#999"/>
<ellipse cx="112.4" cy="440" rx="1.2" ry="0.9" transform="rotate(44.5 112.4 440)" stroke-width="0.8" stroke="#333" fill="#999"/>
<ellipse cx="109.3" cy="442.8" rx="1.2" ry="0.9" transform="rotate(44.5 109.3 442.8)" stroke-width="0.8" stroke="#333" fill="#999"/>
<ellipse cx="105.3" cy="441.1" rx="1.2" ry="0.9" transform="rotate(44.5 105.3 441.1)" stroke-width="0.8" stroke="#333" fill="#999"/>
<ellipse cx="100.9" cy="438.4" rx="1.2" ry="0.9" transform="rotate(44.5 100.9 438.4)" stroke-width="0.8" stroke="#333" fill="#999"/>
<ellipse cx="96.5" cy="434.9" rx="1.2" ry="0.9" transform="rotate(44.5 96.5 434.9)" stroke-width="0.8" stroke="#333" fill="#999"/>
<ellipse cx="92.3" cy="430.8" rx="1.2" ry="0.9" transform="rotate(44.5 92.3 430.8)" stroke-width="0.8" stroke="#333" fill="#999"/>
<ellipse cx="88.6" cy="426.5" rx="1.2" ry="0.9" transform="rotate(44.5 88.6 426.5)" stroke-width="0.8" stroke="#333" fill="#999"/>
<ellipse cx="85.7" cy="422.2" rx="1.2" ry="0.9" transform="rotate(44.5 85.7 422.2)" stroke-width="0.8" stroke="#333" fill="#999"/>
<ellipse cx="83.7" cy="418.1" rx="1.2" ry="0.9" transform="rotate(44.5 83.7 418.1)" stroke-width="0.8" stroke="#333" fill="#999"/>
<ellipse cx="82.9" cy="414.7" rx="1.2" ry="0.9" transform="rotate(44.5 82.9 414.7)" stroke-width="0.8" stroke="#333" fill="#999"/>
<ellipse cx="83.1" cy="412" rx="1.2" ry="0.9" transform="rotate(44.5 83.1 412)" stroke-width="0.8" stroke="#333" fill="#999"/>
<ellipse cx="84.6" cy="410.4" rx="1.2" ry="0.9" transform="rotate(44.5 84.6 410.4)" stroke-width="0.8" stroke="#333" fill="#999"/>
<ellipse cx="87" cy="409.8" rx="1.2" ry="0.9" transform="rotate(44.5 87 409.8)" stroke-width="0.8" stroke="#333" fill="#999"/>
<ellipse cx="90.3" cy="410.4" rx="1.2" ry="0.9" transform="rotate(44.5 90.3 410.4)" stroke-width="0.8" stroke="#333" fill="#999"/>
<ellipse cx="94.3" cy="412.1" rx="1.2" ry="0.9" transform="rotate(44.5 94.3 412.1)" stroke-width="0.8" stroke="#333" fill="#999"/>
<ellipse cx="98.7" cy="414.8" rx="1.2" ry="0.9" transform="rotate(44.5 98.7 414.8)" stroke-width="0.8" stroke="#333" fill="#999"/>
<ellipse cx="103.1" cy="418.3" rx="1.2" ry="0.9" transform="rotate(44.5 103.1 418.3)" stroke-width="0.8" stroke="#333" fill="#999"/>
<ellipse cx="107.3" cy="422.4" rx="1.2" ry="0.9" transform="rotate(44.5 107.3 422.4)" stroke-width="0.8" stroke="#333" fill="#999"/>
<ellipse cx="111" cy="426.7" rx="1.2" ry="0.9" transform="rotate(44.5 111 426.7)" stroke-width="0.8" stroke="#333" fill="#999"/>
<ellipse cx="113.9" cy="431" rx="1.2" ry="0.9" transform="rotate(44.5 113.9 431)" stroke-width="0.8" stroke="#333" fill="#999"/>
<ellipse cx="115.9" cy="435.1" rx="1.2" ry="0.9" transform="rotate(44.5 115.9 435.1)" stroke-width="0.8" stroke="#333" fill="#999"/>
<ellipse cx="116.7" cy="438.5" rx="1.2" ry="0.9" transform="rotate(44.5 116.7 438.5)" stroke-width="0.8" stroke="#333" fill="#999"/>
<ellipse cx="116.5" cy="441.2" rx="1.2" ry="0.9" transform="rotate(44.5 116.5 441.2)" stroke-width="0.8" stroke="#333" fill="#999"/>
<ellipse cx="115" cy="442.8" rx="1.2" ry="0.9" transform="rotate(44.5 115 442.8)" stroke-width="0.8" stroke="#333" fill="#999"/>
<ellipse cx="112.6" cy="443.4" rx="1.2" ry="0.9" transform="rotate(44.5 112.6 443.4)" stroke-width="0.8" stroke="#333" fill="#999"/>
<ellipse cx="107.3" cy="444.3" rx="1.2" ry="0.9" transform="rotate(44.5 107.3 444.3)" stroke-width="0.8" stroke="#333" fill="#999"/>
<ellipse cx="101.1" cy="440.6" rx="1.2" ry="0.9" transform="rotate(44.5 101.1 440.6)" stroke-width="0.8" stroke="#333" fill="#999"/>
<ellipse cx="94.8" cy="435.5" rx="1.2" ry="0.9" transform="rotate(44.5 94.8 435.5)" stroke-width="0.8" stroke="#333" fill="#999"/>
<ellipse cx="89" cy="429.6" rx="1.2" ry="0.9" transform="rotate(44.5 89 429.6)" stroke-width="0.8" stroke="#333" fill="#999"/>
<ellipse cx="84.2" cy="423.3" rx="1.2" ry="0.9" transform="rotate(44.5 84.2 423.3)" stroke-width="0.8" stroke="#333" fill="#999"/>
<ellipse cx="81" cy="417.4" rx="1.2" ry="0.9" transform="rotate(44.5 81 417.4)" stroke-width="0.8" stroke="#333" fill="#999"/>
<ellipse cx="79.6" cy="412.4" rx="1.2" ry="0.9" transform="rotate(44.5 79.6 412.4)" stroke-width="0.8" stroke="#333" fill="#999"/>
<ellipse cx="80.2" cy="408.7" rx="1.2" ry="0.9" transform="rotate(44.5 80.2 408.7)" stroke-width="0.8" stroke="#333" fill="#999"/>
<ellipse cx="82.7" cy="406.8" rx="1.2" ry="0.9" transform="rotate(44.5 82.7 406.8)" stroke-width="0.8" stroke="#333" fill="#999"/>
<ellipse cx="86.8" cy="406.9" rx="1.2" ry="0.9" transform="rotate(44.5 86.8 406.9)" stroke-width="0.8" stroke="#333" fill="#999"/>
<ellipse cx="92.3" cy="408.9" rx="1.2" ry="0.9" transform="rotate(44.5 92.3 408.9)" stroke-width="0.8" stroke="#333" fill="#999"/>
<ellipse cx="98.5" cy="412.6" rx="1.2" ry="0.9" transform="rotate(44.5 98.5 412.6)" stroke-width="0.8" stroke="#333" fill="#999"/>
<ellipse cx="104.8" cy="417.7" rx="1.2" ry="0.9" transform="rotate(44.5 104.8 417.7)" stroke-width="0.8" stroke="#333" fill="#999"/>
<ellipse cx="110.6" cy="423.6" rx="1.2" ry="0.9" transform="rotate(44.5 110.6 423.6)" stroke-width="0.8" stroke="#333" fill="#999"/>
<ellipse cx="115.4" cy="429.9" rx="1.2" ry="0.9" transform="rotate(44.5 115.4 429.9)" stroke-width="0.8" stroke="#333" fill="#999"/>
<ellipse cx="118.6" cy="435.8" rx="1.2" ry="0.9" transform="rotate(44.5 118.6 435.8)" stroke-width="0.8" stroke="#333" fill="#999"/>
<ellipse cx="120" cy="440.8" rx="1.2" ry="0.9" transform="rotate(44.5 120 440.8)" stroke-width="0.8" stroke="#333" fill="#999"/>
<ellipse cx="119.4" cy="444.5" rx="1.2" ry="0.9" transform="rotate(44.5 119.4 444.5)" stroke-width="0.8" stroke="#333" fill="#999"/>
<ellipse cx="116.9" cy="446.4" rx="1.2" ry="0.9" transform="rotate(44.5 116.9 446.4)" stroke-width="0.8" stroke="#333" fill="#999"/>
<ellipse cx="112.8" cy="446.3" rx="1.2" ry="0.9" transform="rotate(44.5 112.8 446.3)" stroke-width="0.8" stroke="#333" fill="#999"/>
<ellipse cx="103.8" cy="444.5" rx="1.2" ry="0.9" transform="rotate(44.5 103.8 444.5)" stroke-width="0.8" stroke="#333" fill="#999"/>
<ellipse cx="98.1" cy="440.5" rx="1.2" ry="0.9" transform="rotate(44.5 98.1 440.5)" stroke-width="0.8" stroke="#333" fill="#999"/>
<ellipse cx="92.6" cy="435.6" rx="1.2" ry="0.9" transform="rotate(44.5 92.6 435.6)" stroke-width="0.8" stroke="#333" fill="#999"/>
<ellipse cx="87.4" cy="430.2" rx="1.2" ry="0.9" transform="rotate(44.5 87.4 430.2)" stroke-width="0.8" stroke="#333" fill="#999"/>
<ellipse cx="83" cy="424.7" rx="1.2" ry="0.9" transform="rotate(44.5 83 424.7)" stroke-width="0.8" stroke="#333" fill="#999"/>
<ellipse cx="79.5" cy="419.2" rx="1.2" ry="0.9" transform="rotate(44.5 79.5 419.2)" stroke-width="0.8" stroke="#333" fill="#999"/>
<ellipse cx="77.3" cy="414.1" rx="1.2" ry="0.9" transform="rotate(44.5 77.3 414.1)" stroke-width="0.8" stroke="#333" fill="#999"/>
<ellipse cx="76.3" cy="409.8" rx="1.2" ry="0.9" transform="rotate(44.5 76.3 409.8)" stroke-width="0.8" stroke="#333" fill="#999"/>
<ellipse cx="76.7" cy="406.5" rx="1.2" ry="0.9" transform="rotate(44.5 76.7 406.5)" stroke-width="0.8" stroke="#333" fill="#999"/>
<ellipse cx="78.5" cy="404.3" rx="1.2" ry="0.9" transform="rotate(44.5 78.5 404.3)" stroke-width="0.8" stroke="#333" fill="#999"/>
<ellipse cx="81.5" cy="403.4" rx="1.2" ry="0.9" transform="rotate(44.5 81.5 403.4)" stroke-width="0.8" stroke="#333" fill="#999"/>
<ellipse cx="85.5" cy="403.9" rx="1.2" ry="0.9" transform="rotate(44.5 85.5 403.9)" stroke-width="0.8" stroke="#333" fill="#999"/>
<ellipse cx="90.4" cy="405.7" rx="1.2" ry="0.9" transform="rotate(44.5 90.4 405.7)" stroke-width="0.8" stroke="#333" fill="#999"/>
<ellipse cx="95.8" cy="408.7" rx="1.2" ry="0.9" transform="rotate(44.5 95.8 408.7)" stroke-width="0.8" stroke="#333" fill="#999"/>
<ellipse cx="101.5" cy="412.7" rx="1.2" ry="0.9" transform="rotate(44.5 101.5 412.7)" stroke-width="0.8" stroke="#333" fill="#999"/>
<ellipse cx="107" cy="417.6" rx="1.2" ry="0.9" transform="rotate(44.5 107 417.6)" stroke-width="0.8" stroke="#333" fill="#999"/>
<ellipse cx="112.2" cy="423" rx="1.2" ry="0.9" transform="rotate(44.5 112.2 423)" stroke-width="0.8" stroke="#333" fill="#999"/>
<ellipse cx="116.6" cy="428.5" rx="1.2" ry="0.9" transform="rotate(44.5 116.6 428.5)" stroke-width="0.8" stroke="#333" fill="#999"/>
<ellipse cx="120.1" cy="434" rx="1.2" ry="0.9" transform="rotate(44.5 120.1 434)" stroke-width="0.8" stroke="#333" fill="#999"/>
<ellipse cx="122.3" cy="439.1" rx="1.2" ry="0.9" transform="rotate(44.5 122.3 439.1)" stroke-width="0.8" stroke="#333" fill="#999"/>
<ellipse cx="123.3" cy="443.4" rx="1.2" ry="0.9" transform="rotate(44.5 123.3 443.4)" stroke-width="0.8" stroke="#333" fill="#999"/>
<ellipse cx="122.9" cy="446.7" rx="1.2" ry="0.9" transform="rotate(44.5 122.9 446.7)" stroke-width="0.8" stroke="#333" fill="#999"/>
<ellipse cx="121.1" cy="448.9" rx="1.2" ry="0.9" transform="rotate(44.5 121.1 448.9)" stroke-width="0.8" stroke="#333" fill="#999"/>
<ellipse cx="118.1" cy="449.8" rx="1.2" ry="0.9" transform="rotate(44.5 118.1 449.8)" stroke-width="0.8" stroke="#333" fill="#999"/>
<ellipse cx="114.1" cy="449.3" rx="1.2" ry="0.9" transform="rotate(44.5 114.1 449.3)" stroke-width="0.8" stroke="#333" fill="#999"/>
<ellipse cx="109.2" cy="447.5" rx="1.2" ry="0.9" transform="rotate(44.5 109.2 447.5)" stroke-width="0.8" stroke="#333" fill="#999"/>
<ellipse cx="98.7" cy="443.1" rx="1.2" ry="0.9" transform="rotate(44.5 98.7 443.1)" stroke-width="0.8" stroke="#333" fill="#999"/>
<ellipse cx="92.4" cy="437.6" rx="1.2" ry="0.9" transform="rotate(44.5 92.4 437.6)" stroke-width="0.8" stroke="#333" fill="#999"/>
<ellipse cx="86.4" cy="431.6" rx="1.2" ry="0.9" transform="rotate(44.5 86.4 431.6)" stroke-width="0.8" stroke="#333" fill="#999"/>
<ellipse cx="81.3" cy="425.2" rx="1.2" ry="0.9" transform="rotate(44.5 81.3 425.2)" stroke-width="0.8" stroke="#333" fill="#999"/>
<ellipse cx="77.2" cy="418.9" rx="1.2" ry="0.9" transform="rotate(44.5 77.2 418.9)" stroke-width="0.8" stroke="#333" fill="#999"/>
<ellipse cx="74.4" cy="413.1" rx="1.2" ry="0.9" transform="rotate(44.5 74.4 413.1)" stroke-width="0.8" stroke="#333" fill="#999"/>
<ellipse cx="73.1" cy="408.1" rx="1.2" ry="0.9" transform="rotate(44.5 73.1 408.1)" stroke-width="0.8" stroke="#333" fill="#999"/>
<ellipse cx="73.4" cy="404.1" rx="1.2" ry="0.9" transform="rotate(44.5 73.4 404.1)" stroke-width="0.8" stroke="#333" fill="#999"/>
<ellipse cx="75.2" cy="401.4" rx="1.2" ry="0.9" transform="rotate(44.5 75.2 401.4)" stroke-width="0.8" stroke="#333" fill="#999"/>
<ellipse cx="78.4" cy="400.2" rx="1.2" ry="0.9" transform="rotate(44.5 78.4 400.2)" stroke-width="0.8" stroke="#333" fill="#999"/>
<ellipse cx="82.9" cy="400.6" rx="1.2" ry="0.9" transform="rotate(44.5 82.9 400.6)" stroke-width="0.8" stroke="#333" fill="#999"/>
<ellipse cx="88.3" cy="402.4" rx="1.2" ry="0.9" transform="rotate(44.5 88.3 402.4)" stroke-width="0.8" stroke="#333" fill="#999"/>
<ellipse cx="94.4" cy="405.7" rx="1.2" ry="0.9" transform="rotate(44.5 94.4 405.7)" stroke-width="0.8" stroke="#333" fill="#999"/>
<ellipse cx="100.9" cy="410.1" rx="1.2" ry="0.9" transform="rotate(44.5 100.9 410.1)" stroke-width="0.8" stroke="#333" fill="#999"/>
<ellipse cx="107.2" cy="415.6" rx="1.2" ry="0.9" transform="rotate(44.5 107.2 415.6)" stroke-width="0.8" stroke="#333" fill="#999"/>
<ellipse cx="113.2" cy="421.6" rx="1.2" ry="0.9" transform="rotate(44.5 113.2 421.6)" stroke-width="0.8" stroke="#333" fill="#999"/>
<ellipse cx="118.3" cy="428" rx="1.2" ry="0.9" transform="rotate(44.5 118.3 428)" stroke-width="0.8" stroke="#333" fill="#999"/>
<ellipse cx="122.4" cy="434.3" rx="1.2" ry="0.9" transform="rotate(44.5 122.4 434.3)" stroke-width="0.8" stroke="#333" fill="#999"/>
<ellipse cx="125.2" cy="440.1" rx="1.2" ry="0.9" transform="rotate(44.5 125.2 440.1)" stroke-width="0.8" stroke="#333" fill="#999"/>
<ellipse cx="126.5" cy="445.1" rx="1.2" ry="0.9" transform="rotate(44.5 126.5 445.1)" stroke-width="0.8" stroke="#333" fill="#999"/>
<ellipse cx="126.2" cy="449.1" rx="1.2" ry="0.9" transform="rotate(44.5 126.2 449.1)" stroke-width="0.8" stroke="#333" fill="#999"/>
<ellipse cx="124.4" cy="451.8" rx="1.2" ry="0.9" transform="rotate(44.5 124.4 451.8)" stroke-width="0.8" stroke="#333" fill="#999"/>
<ellipse cx="121.2" cy="453" rx="1.2" ry="0.9" transform="rotate(44.5 121.2 453)" stroke-width="0.8" stroke="#333" fill="#999"/>
<ellipse cx="116.7" cy="452.6" rx="1.2" ry="0.9" transform="rotate(44.5 116.7 452.6)" stroke-width="0.8" stroke="#333" fill="#999"/>
<ellipse cx="111.3" cy="450.8" rx="1.2" ry="0.9" transform="rotate(44.5 111.3 450.8)" stroke-width="0.8" stroke="#333" fill="#999"/>
<ellipse cx="105.2" cy="447.5" rx="1.2" ry="0.9" transform="rotate(44.5 105.2 447.5)" stroke-width="0.8" stroke="#333" fill="#999"/>
<ellipse cx="92.4" cy="439.8" rx="1.2" ry="0.9" transform="rotate(44.5 92.4 439.8)" stroke-width="0.8" stroke="#333" fill="#999"/>
<ellipse cx="86.5" cy="434" rx="1.2" ry="0.9" transform="rotate(44.5 86.5 434)" stroke-width="0.8" stroke="#333" fill="#999"/>
<ellipse cx="81.2" cy="427.9" rx="1.2" ry="0.9" transform="rotate(44.5 81.2 427.9)" stroke-width="0.8" stroke="#333" fill="#999"/>
<ellipse cx="76.7" cy="421.7" rx="1.2" ry="0.9" transform="rotate(44.5 76.7 421.7)" stroke-width="0.8" stroke="#333" fill="#999"/>
<ellipse cx="73.2" cy="415.7" rx="1.2" ry="0.9" transform="rotate(44.5 73.2 415.7)" stroke-width="0.8" stroke="#333" fill="#999"/>
<ellipse cx="70.9" cy="410.2" rx="1.2" ry="0.9" transform="rotate(44.5 70.9 410.2)" stroke-width="0.8" stroke="#333" fill="#999"/>
<ellipse cx="69.8" cy="405.5" rx="1.2" ry="0.9" transform="rotate(44.5 69.8 405.5)" stroke-width="0.8" stroke="#333" fill="#999"/>
<ellipse cx="70.1" cy="401.6" rx="1.2" ry="0.9" transform="rotate(44.5 70.1 401.6)" stroke-width="0.8" stroke="#333" fill="#999"/>
<ellipse cx="71.6" cy="398.8" rx="1.2" ry="0.9" transform="rotate(44.5 71.6 398.8)" stroke-width="0.8" stroke="#333" fill="#999"/>
<ellipse cx="74.4" cy="397.3" rx="1.2" ry="0.9" transform="rotate(44.5 74.4 397.3)" stroke-width="0.8" stroke="#333" fill="#999"/>
<ellipse cx="78.3" cy="397" rx="1.2" ry="0.9" transform="rotate(44.5 78.3 397)" stroke-width="0.8" stroke="#333" fill="#999"/>
<ellipse cx="83.1" cy="398" rx="1.2" ry="0.9" transform="rotate(44.5 83.1 398)" stroke-width="0.8" stroke="#333" fill="#999"/>
<ellipse cx="88.7" cy="400.3" rx="1.2" ry="0.9" transform="rotate(44.5 88.7 400.3)" stroke-width="0.8" stroke="#333" fill="#999"/>
<ellipse cx="94.7" cy="403.7" rx="1.2" ry="0.9" transform="rotate(44.5 94.7 403.7)" stroke-width="0.8" stroke="#333" fill="#999"/>
<ellipse cx="101" cy="408.1" rx="1.2" ry="0.9" transform="rotate(44.5 101 408.1)" stroke-width="0.8" stroke="#333" fill="#999"/>
<ellipse cx="107.2" cy="413.4" rx="1.2" ry="0.9" transform="rotate(44.5 107.2 413.4)" stroke-width="0.8" stroke="#333" fill="#999"/>
<ellipse cx="113.1" cy="419.2" rx="1.2" ry="0.9" transform="rotate(44.5 113.1 419.2)" stroke-width="0.8" stroke="#333" fill="#999"/>
<ellipse cx="118.4" cy="425.3" rx="1.2" ry="0.9" transform="rotate(44.5 118.4 425.3)" stroke-width="0.8" stroke="#333" fill="#999"/>
<ellipse cx="122.9" cy="431.5" rx="1.2" ry="0.9" transform="rotate(44.5 122.9 431.5)" stroke-width="0.8" stroke="#333" fill="#999"/>
<ellipse cx="126.4" cy="437.5" rx="1.2" ry="0.9" transform="rotate(44.5 126.4 437.5)" stroke-width="0.8" stroke="#333" fill="#999"/>
<ellipse cx="128.7" cy="443" rx="1.2" ry="0.9" transform="rotate(44.5 128.7 443)" stroke-width="0.8" stroke="#333" fill="#999"/>
<ellipse cx="129.8" cy="447.7" rx="1.2" ry="0.9" transform="rotate(44.5 129.8 447.7)" stroke-width="0.8" stroke="#333" fill="#999"/>
<ellipse cx="129.5" cy="451.6" rx="1.2" ry="0.9" transform="rotate(44.5 129.5 451.6)" stroke-width="0.8" stroke="#333" fill="#999"/>
<ellipse cx="128" cy="454.4" rx="1.2" ry="0.9" transform="rotate(44.5 128 454.4)" stroke-width="0.8" stroke="#333" fill="#999"/>
<ellipse cx="125.2" cy="455.9" rx="1.2" ry="0.9" transform="rotate(44.5 125.2 455.9)" stroke-width="0.8" stroke="#333" fill="#999"/>
<ellipse cx="121.3" cy="456.2" rx="1.2" ry="0.9" transform="rotate(44.5 121.3 456.2)" stroke-width="0.8" stroke="#333" fill="#999"/>
<ellipse cx="116.5" cy="455.2" rx="1.2" ry="0.9" transform="rotate(44.5 116.5 455.2)" stroke-width="0.8" stroke="#333" fill="#999"/>
<ellipse cx="110.9" cy="452.9" rx="1.2" ry="0.9" transform="rotate(44.5 110.9 452.9)" stroke-width="0.8" stroke="#333" fill="#999"/>
<ellipse cx="104.9" cy="449.5" rx="1.2" ry="0.9" transform="rotate(44.5 104.9 449.5)" stroke-width="0.8" stroke="#333" fill="#999"/>
<ellipse cx="98.6" cy="445.1" rx="1.2" ry="0.9" transform="rotate(44.5 98.6 445.1)" stroke-width="0.8" stroke="#333" fill="#999"/>
<ellipse cx="98.5" cy="427.5" rx="7" ry="3.2" transform="rotate(45 98.5 427.5)" stroke-width="1.1" stroke="#333"/>
<path d="M100 453 L105 466.7 M110 456.7 L110.8 465" stroke-width="0.8"/>
<g stroke="#7d7d7d" stroke-width="0.75">
<path d="M52.4 412 L68 403"/>
<path d="M50.5 586.5 L111 552.7"/>
<path d="M52.6 412.5 L52.6 584"/>
<path d="M52.6 412.5 L53.9 417 L51.3 417 Z" fill="#222" stroke="none"/>
<path d="M52.6 584 L51.3 579.5 L53.9 579.5 Z" fill="#222" stroke="none"/>
<text x="0" y="0" font-size="6" text-anchor="middle" dominant-baseline="central" transform="translate(49.3 506) skewY(-30) rotate(-90) scale(0.9 1)">265</text>
<path d="M116.7 416.7 L131.7 411.7 L150 417.5"/>
<text x="0" y="0" font-size="6" text-anchor="middle" dominant-baseline="central" transform="translate(143.3 410.8) skewY(25) scale(0.9 1)">⌀125</text>
<path d="M123 550 L128 556 L141.5 565.5"/>
<text x="0" y="0" font-size="6" text-anchor="middle" dominant-baseline="central" transform="translate(135.6 558.1) skewY(30) scale(0.9 1)">G1/2</text>
</g>
<path d="M256.4 451 C256.3 455.8 255.6 471.4 256 480 C256.4 488.6 257 495 259 502.5 C261 510 264 518 268 525 C272 532 277.2 539 283 544.5 C288.8 550 294.8 554.8 302.5 558 C310.2 561.2 323.1 563.5 329.5 564 C335.9 564.5 337 562.7 341 561 C345 559.3 349.3 556.5 353.3 553.8 C357.3 551.1 361.7 548.4 365 545 C368.3 541.6 371.5 538.8 373.3 533.3 C375.1 527.8 375.4 519.5 375.8 511.7 C376.2 503.9 375.8 490.9 375.8 486.7"/>
<path d="M266.7 451 C266.6 455.8 265.7 471.9 265.9 480 C266.1 488.1 266.1 493 268 499.5 C269.9 506 273 513 277 519 C281 525 286.5 530.8 292 535.5 C297.5 540.2 303.8 544.5 310 547.5 C316.2 550.5 323.8 552.9 329.5 553.5 C335.2 554.1 339.8 552.6 344 551 C348.2 549.4 352 547 355 544 C358 541 360.3 537 362 533 C363.7 529 364.4 525 365 520 C365.6 515 365.6 508.9 365.6 503.3 C365.6 497.8 364.9 489.5 364.8 486.7"/>
<path d="M285.3 441 C287.3 440.1 293.1 436.6 297.3 435.7 C301.5 434.8 306.2 434.8 310.7 435.7 C315.1 436.6 319.1 438.1 324 441 C328.9 443.9 335.7 448.7 340 453 C344.3 457.3 347.1 462.2 350 467 C352.9 471.8 355.4 477 357.5 482 C359.6 487 361.2 492.3 362.5 497 C363.8 501.7 364.8 507.8 365.3 510"/>
<path d="M266.8 462 C267.9 459.8 270.7 452.3 273.3 449 C275.9 445.7 279.4 443.6 282.7 442.3 C286 441 289.8 441 293.3 441 C296.9 441 300 441.2 304 442.3 C308 443.4 312.9 445 317.3 447.7 C321.8 450.4 326.9 454.5 330.7 458.3 C334.5 462.1 337.1 465.6 340 470.3 C342.9 475 345.9 480.4 348.3 486.7 C350.7 493 353.2 501.4 354.5 508.3 C355.8 515.2 356.3 522.7 355.8 528.3 C355.3 533.9 354.2 538.6 351.7 542 C349.1 545.4 344.2 547.5 340.5 548.5 C336.8 549.5 333.3 549.2 329.5 548.2 C325.7 547.3 322 545.6 317.5 543 C313 540.4 307.5 537 302.5 532.5 C297.5 528 291.5 521.5 287.5 516 C283.5 510.5 280.4 505.5 278.5 499.5 C276.6 493.5 276.4 485.8 276.2 480 C276.1 474.2 276.2 469.2 277.3 465 C278.4 460.8 280.6 457.3 283 455 C285.4 452.7 288.5 451.6 292 451 C295.5 450.4 299.8 450.5 304 451.5 C308.2 452.5 313.3 454.7 317.3 457 C321.3 459.3 324.6 462.1 328 465.5 C331.4 468.9 334.9 473.1 337.5 477.5 C340.1 481.9 342 486.9 343.5 492 C345 497.1 345.9 503 346.5 508 C347.1 513 347.3 517.7 347 522 C346.7 526.3 346.1 530.9 344.5 534 C342.9 537.1 341.2 539.8 337.5 540.5 C333.8 541.2 327.4 540.2 322 538 C316.6 535.8 310 531.8 305 527 C300 522.2 295.1 515.2 292 509 C288.9 502.8 287.5 496.2 286.5 490 C285.5 483.8 285.8 477 286 472 C286.2 467 286.8 463 287.5 460 C288.2 457 289.6 455 290 454"/>
<path d="M254 432.3 L254 451 C 258 453 265 453 268.7 451 L268.7 432.3 Z" fill="#fff"/>
<ellipse cx="261.3" cy="432.3" rx="7.7" ry="3.8" transform="rotate(0 261.3 432.3)" stroke-width="1" fill="#fff"/>
<ellipse cx="261.3" cy="432.6" rx="5.8" ry="2.6" transform="rotate(0 261.3 432.6)" stroke-width="0.8" stroke="#555"/>
<path d="M268.9 433.5 L268.9 433.7 L268.8 434 L268.8 434.2 L268.6 434.4 L268.5 434.7 L268.3 434.9 L268.1 435.1 L267.9 435.3 L267.6 435.5 L267.3 435.7 L267 435.9 L266.7 436 L266.3 436.2 L265.9 436.4 L265.5 436.5 L265.1 436.6 L264.7 436.7 L264.2 436.8 L263.7 436.9 L263.3 437 L262.8 437 L262.3 437.1 L261.8 437.1 L261.3 437.1 L260.8 437.1 L260.3 437.1 L259.8 437 L259.3 437 L258.9 436.9 L258.4 436.8 L257.9 436.7 L257.5 436.6 L257.1 436.5 L256.7 436.4 L256.3 436.2 L255.9 436 L255.6 435.9 L255.3 435.7 L255 435.5 L254.7 435.3 L254.5 435.1 L254.3 434.9 L254.1 434.7 L254 434.4 L253.8 434.2 L253.8 434 L253.7 433.7 L253.7 433.5" stroke-width="0.8" stroke="#444"/>
<path d="M268.9 435 L268.9 435.2 L268.8 435.4 L268.8 435.7 L268.6 435.9 L268.5 436.1 L268.3 436.3 L268.1 436.5 L267.9 436.7 L267.6 436.9 L267.3 437.1 L267 437.2 L266.7 437.4 L266.3 437.6 L265.9 437.7 L265.5 437.8 L265.1 437.9 L264.7 438 L264.2 438.1 L263.7 438.2 L263.3 438.3 L262.8 438.3 L262.3 438.4 L261.8 438.4 L261.3 438.4 L260.8 438.4 L260.3 438.4 L259.8 438.3 L259.3 438.3 L258.9 438.2 L258.4 438.1 L257.9 438 L257.5 437.9 L257.1 437.8 L256.7 437.7 L256.3 437.6 L255.9 437.4 L255.6 437.2 L255.3 437.1 L255 436.9 L254.7 436.7 L254.5 436.5 L254.3 436.3 L254.1 436.1 L254 435.9 L253.8 435.7 L253.8 435.4 L253.7 435.2 L253.7 435" stroke-width="0.8" stroke="#555"/>
<path d="M362.2 468 L362.2 486.2 C 366 489 374 489 377.9 485.5 L377.9 468 Z" fill="#fff"/>
<ellipse cx="370" cy="468" rx="7.8" ry="4.5" transform="rotate(0 370 468)" stroke-width="1" fill="#fff"/>
<ellipse cx="370" cy="468.3" rx="5.8" ry="3" transform="rotate(0 370 468.3)" stroke-width="0.8" stroke="#555"/>
<path d="M377.7 469.5 L377.7 469.8 L377.6 470 L377.6 470.3 L377.4 470.6 L377.3 470.9 L377.1 471.1 L376.9 471.4 L376.7 471.6 L376.4 471.8 L376.1 472.1 L375.8 472.3 L375.4 472.5 L375.1 472.7 L374.7 472.8 L374.3 473 L373.9 473.1 L373.4 473.3 L372.9 473.4 L372.5 473.5 L372 473.6 L371.5 473.6 L371 473.7 L370.5 473.7 L370 473.7 L369.5 473.7 L369 473.7 L368.5 473.6 L368 473.6 L367.5 473.5 L367.1 473.4 L366.6 473.3 L366.1 473.1 L365.7 473 L365.3 472.8 L364.9 472.7 L364.6 472.5 L364.2 472.3 L363.9 472.1 L363.6 471.8 L363.3 471.6 L363.1 471.4 L362.9 471.1 L362.7 470.9 L362.6 470.6 L362.4 470.3 L362.4 470 L362.3 469.8 L362.3 469.5" stroke-width="0.8" stroke="#444"/>
<path d="M377.7 471 L377.7 471.3 L377.6 471.5 L377.6 471.8 L377.4 472 L377.3 472.3 L377.1 472.5 L376.9 472.8 L376.7 473 L376.4 473.2 L376.1 473.4 L375.8 473.6 L375.4 473.8 L375.1 474 L374.7 474.2 L374.3 474.3 L373.9 474.5 L373.4 474.6 L372.9 474.7 L372.5 474.8 L372 474.9 L371.5 474.9 L371 475 L370.5 475 L370 475 L369.5 475 L369 475 L368.5 474.9 L368 474.9 L367.5 474.8 L367.1 474.7 L366.6 474.6 L366.1 474.5 L365.7 474.3 L365.3 474.2 L364.9 474 L364.6 473.8 L364.2 473.6 L363.9 473.4 L363.6 473.2 L363.3 473 L363.1 472.8 L362.9 472.5 L362.7 472.3 L362.6 472 L362.4 471.8 L362.4 471.5 L362.3 471.3 L362.3 471" stroke-width="0.8" stroke="#555"/>
<g stroke="#7d7d7d" stroke-width="0.75">
<path d="M260 430 L255 421.7 L236.7 418"/>
<text x="0" y="0" font-size="6" text-anchor="middle" dominant-baseline="central" transform="translate(243 411.2) skewY(30) scale(0.9 1)">G1/2</text>
<path d="M377.9 469.2 L385 468 L399.5 476.8"/>
<text x="0" y="0" font-size="6" text-anchor="middle" dominant-baseline="central" transform="translate(393.7 469.8) skewY(30) scale(0.9 1)">G1/2</text>
<path d="M336.7 561.7 L341.7 571.7 L363.3 583.3"/>
<text x="0" y="0" font-size="6" text-anchor="middle" dominant-baseline="central" transform="translate(352.9 573.3) skewY(30) scale(0.9 1)">1750mm</text>
</g>
</g>
</svg>
</body></html>
